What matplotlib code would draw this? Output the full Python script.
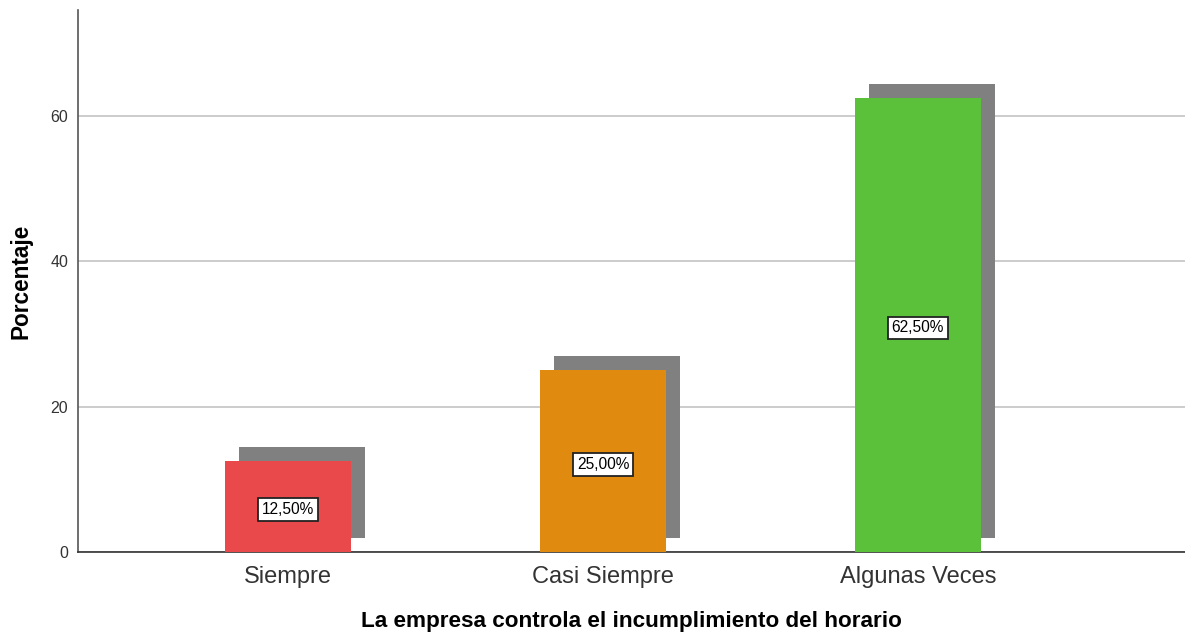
import matplotlib
matplotlib.use("Agg")
import matplotlib.pyplot as plt
from matplotlib.transforms import ScaledTranslation

categories = ["Siempre", "Casi Siempre", "Algunas Veces"]
values = [12.5, 25.0, 62.5]
labels = ["12,50%", "25,00%", "62,50%"]
colors = ["#E9494B", "#E08A10", "#5CC13A"]
yticks = [0, 20, 40, 60]

plt.rcParams['font.family'] = ['Liberation Sans', 'DejaVu Sans']

fig = plt.figure(figsize=(11.85, 6.37), dpi=100)
ax = fig.add_axes([78/1185, 1-552/637, 1-78/1185, (552-10)/637])

x = list(range(len(categories)))
w = 0.4
shadow_tr = ax.transData + ScaledTranslation(14/100, 14/100, fig.dpi_scale_trans)
for xi, v in zip(x, values):
    ax.bar(xi, v, width=w, color="#808080", transform=shadow_tr, zorder=2, linewidth=0)
ax.bar(x, values, width=w, color=colors, zorder=3, linewidth=0)

label_tr = ax.transData + ScaledTranslation(0, -3/100, fig.dpi_scale_trans)
for xi, v, lab in zip(x, values, labels):
    ax.text(xi, v/2, lab, ha="center", va="center", fontsize=11.2, color="black", zorder=5,
            transform=label_tr,
            bbox=dict(boxstyle="square,pad=0.25", fc="white", ec="#222222", lw=1.3))

ax.set_xlim(-0.667, 2.848)
ax.set_ylim(0, 74.6)
ax.set_yticks(yticks)
ax.set_xticks(x)
ax.set_xticklabels(categories, fontsize=17, color="#333333")
ax.tick_params(axis="x", length=0, pad=10)
ax.tick_params(axis="y", length=0, pad=7, labelsize=11.5, labelcolor="#333333")
ax.yaxis.grid(True, color="#C8C8C8", lw=1.3, zorder=0)
ax.set_axisbelow(True)
for s in ["top", "right"]:
    ax.spines[s].set_visible(False)
ax.spines["left"].set_color("#555555")
ax.spines["bottom"].set_color("#333333")
ax.spines["left"].set_linewidth(1.2)
ax.spines["bottom"].set_linewidth(1.2)

ax.set_ylabel("Porcentaje", fontsize=16.3, fontweight="bold", labelpad=13)
ax.set_xlabel("La empresa controla el incumplimiento del horario", fontsize=16.2,
              fontweight="bold", labelpad=17)

fig.savefig("out.png", dpi=100)
